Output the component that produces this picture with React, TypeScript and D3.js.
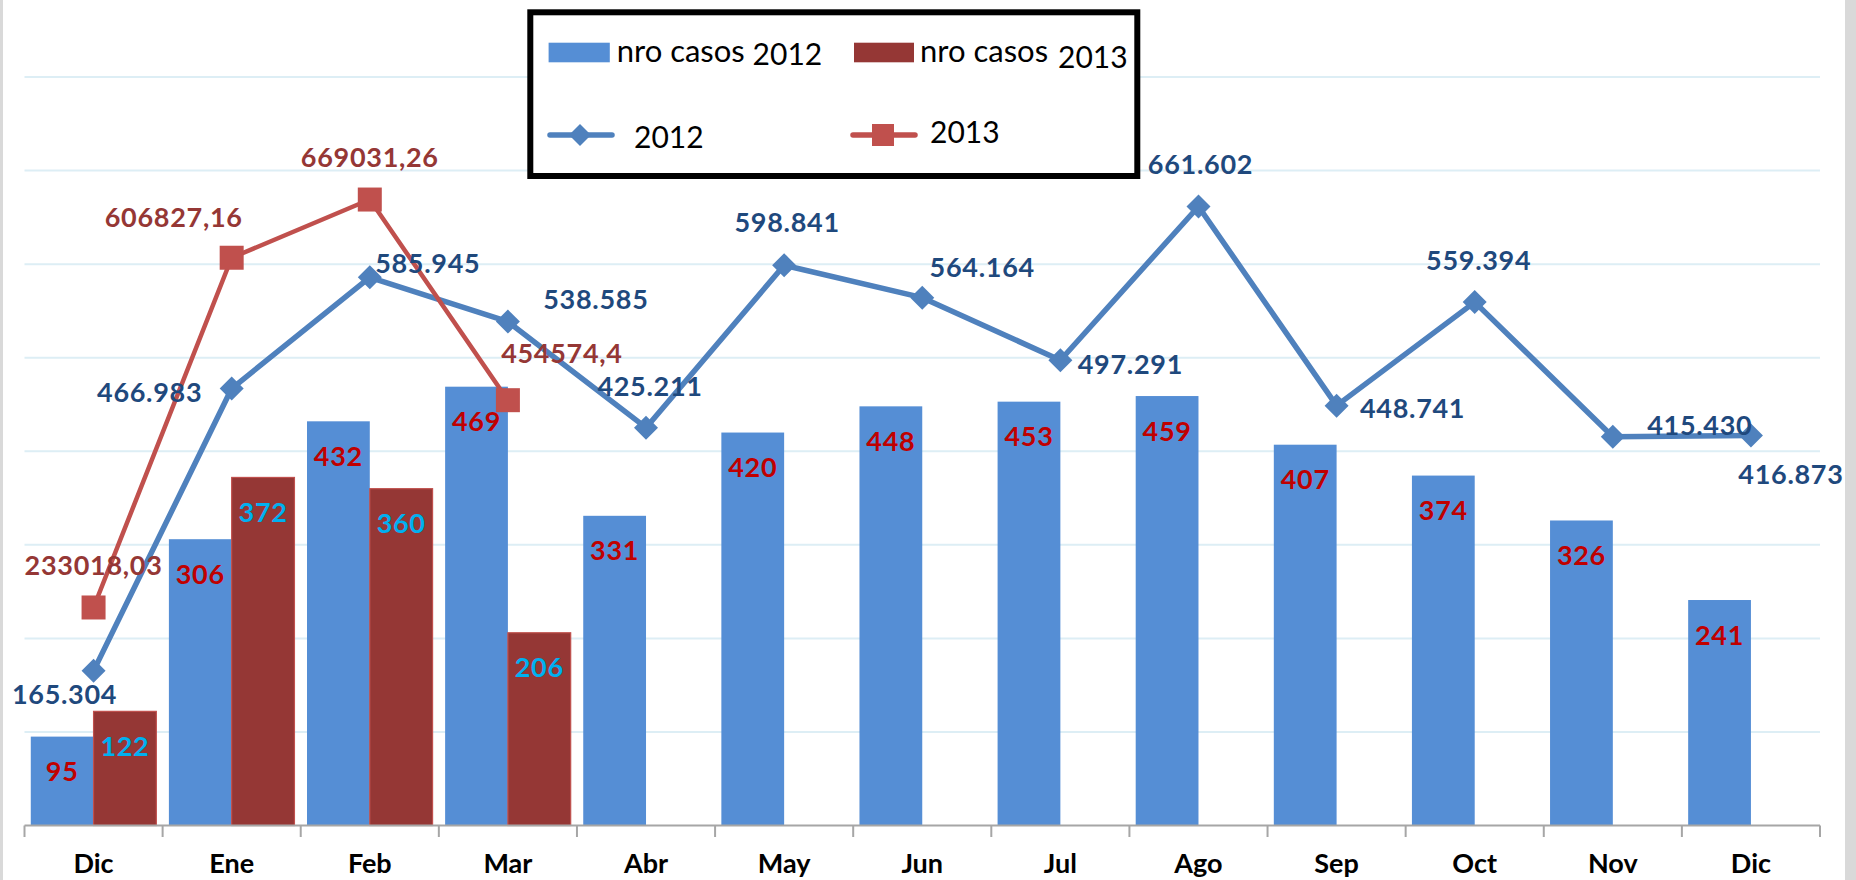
import React from "react";
import * as d3 from "d3";

const months = ["Dic", "Ene", "Feb", "Mar", "Abr", "May", "Jun", "Jul", "Ago", "Sep", "Oct", "Nov", "Dic"];
const casos2012 = [95, 306, 432, 469, 331, 420, 448, 453, 459, 407, 374, 326, 241];
const casos2013 = [122, 372, 360, 206];
const monto2012 = [165304, 466983, 585945, 538585, 425211, 598841, 564164, 497291, 661602, 448741, 559394, 415430, 416873];
const monto2013 = [233018.03, 606827.16, 669031.26, 454574.4];
const barTicks = [0, 100, 200, 300, 400, 500, 600, 700, 800];

// label placement offsets (dx, dy from point to label centre)
const off2012: [number, number][] = [
  [-29, 24], [-82, 4], [58, -14], [88, -22], [4, -41], [3, -43], [60, -30],
  [70, 4], [2, -42], [76, 3], [4, -42], [87, -11], [40, 39],
];
const off2013: [number, number][] = [[0, -42], [-58, -40], [0, -42], [54, -47]];

const W = 1856;
const H = 880;
const FONT = "Lato, 'Open Sans', sans-serif";

const BLUE_BAR = "#558ed5";
const RED_BAR = "#953735";
const BLUE_LINE = "#4f81bd";
const RED_LINE = "#c0504d";

const fmt2012 = (v: number) => d3.format(",")(v).replace(/,/g, ".");
const fmt2013 = (v: number) => String(v).replace(".", ",");

export default function App() {
  const x = d3.scaleBand<number>().domain(d3.range(months.length)).range([24.5, 1820]).paddingInner(0).paddingOuter(0);
  const y = d3.scaleLinear().domain([0, 800]).range([825.5, 77]);
  const yL = d3.scaleLinear().domain([0, 800000]).range([825.5, 77]);
  const bw = x.bandwidth();
  const barW = bw / 2.2;
  const cx = (i: number) => (x(i) as number) + bw / 2;

  const line = d3.line<number>().x((_, i) => cx(i)).y((d) => yL(d));

  const diamond = (px: number, py: number, r: number) =>
    `M${px},${py - r}L${px + r},${py}L${px},${py + r}L${px - r},${py}Z`;

  const lblStyle = { fontFamily: FONT, fontWeight: 700, fontSize: 27, letterSpacing: 0.7 } as const;

  return (
    <div style={{ position: "absolute", left: 0, top: 0, width: W, height: H, overflow: "hidden" }}>
      <svg width={W} height={H} style={{ display: "block", background: "#fff" }}>
        <rect x={0} y={0} width={W} height={H} fill="#fff" />
        <rect x={0} y={0} width={3} height={H} fill="#d9d9d9" />
        <rect x={1845} y={0} width={11} height={H} fill="#d9d9d9" />

        {/* gridlines */}
        {barTicks.slice(1).map((t) => (
          <line key={t} x1={24.5} x2={1820} y1={y(t)} y2={y(t)} stroke="#ddeef5" strokeWidth={2} />
        ))}

        {/* bars 2012 */}
        {casos2012.map((v, i) => (
          <rect key={"b12" + i} x={(x(i) as number) + 0.1 * barW} y={y(v)} width={barW} height={y(0) - y(v)} fill={BLUE_BAR} />
        ))}
        {/* bars 2013 */}
        {casos2013.map((v, i) => (
          <rect key={"b13" + i} x={(x(i) as number) + 1.1 * barW} y={y(v)} width={barW} height={y(0) - y(v)} fill={RED_BAR} stroke="#c0504d" strokeWidth={1.2} />
        ))}

        {/* axis */}
        <line x1={24.5} x2={1820} y1={825.5} y2={825.5} stroke="#a6a6a6" strokeWidth={2} />
        {d3.range(months.length + 1).map((i) => {
          const tx = i < months.length ? (x(i) as number) : 1820;
          return <line key={"t" + i} x1={tx} x2={tx} y1={825.5} y2={837} stroke="#a6a6a6" strokeWidth={2} />;
        })}
        {months.map((m, i) => (
          <text key={"m" + i} x={cx(i)} y={873} textAnchor="middle" fontFamily={FONT} fontWeight={700} fontSize={27} fill="#000">
            {m}
          </text>
        ))}

        {/* lines */}
        <path d={line(monto2012) || ""} fill="none" stroke={BLUE_LINE} strokeWidth={5.5} strokeLinejoin="round" />
        <path d={line(monto2013) || ""} fill="none" stroke={RED_LINE} strokeWidth={4.5} strokeLinejoin="round" />
        {monto2012.map((v, i) => (
          <path key={"d" + i} d={diamond(cx(i), yL(v), 12)} fill={BLUE_LINE} />
        ))}
        {monto2013.map((v, i) => (
          <rect key={"s" + i} x={cx(i) - 12} y={yL(v) - 12} width={24} height={24} fill={RED_LINE} />
        ))}

        {/* bar labels */}
        {casos2012.map((v, i) => (
          <text key={"l12" + i} x={cx(i) - bw / 2 + 0.6 * barW} y={y(v) + 44.5} textAnchor="middle" fill="#c00000" {...lblStyle}>
            {v}
          </text>
        ))}
        {casos2013.map((v, i) => (
          <text key={"l13" + i} x={cx(i) - bw / 2 + 1.6 * barW} y={y(v) + 44.5} textAnchor="middle" fill="#00b0f0" {...lblStyle}>
            {v}
          </text>
        ))}

        {/* line labels */}
        {monto2012.map((v, i) => (
          <text key={"ll12" + i} x={cx(i) + off2012[i][0]} y={yL(v) + off2012[i][1] + 9.5} textAnchor="middle" fill="#1f497d" {...lblStyle}>
            {fmt2012(v)}
          </text>
        ))}
        {monto2013.map((v, i) => (
          <text key={"ll13" + i} x={cx(i) + off2013[i][0]} y={yL(v) + off2013[i][1] + 9.5} textAnchor="middle" fill="#953735" {...lblStyle}>
            {fmt2013(v)}
          </text>
        ))}

        {/* legend */}
        <rect x={530.3} y={12.3} width={607} height={163.7} fill="#fff" stroke="#000" strokeWidth={6} />
        <rect x={548.6} y={42.7} width={61.2} height={19.6} fill={BLUE_BAR} />
        <text x={616.7} y={61.7} fontFamily={FONT} fontSize={31} fill="#000">nro casos</text>
        <text x={752.6} y={65} fontFamily={FONT} fontSize={30} fill="#000">2012</text>
        <rect x={854} y={42.7} width={60} height={19.6} fill={RED_BAR} />
        <text x={920} y={61.7} fontFamily={FONT} fontSize={31} fill="#000">nro casos</text>
        <text x={1058} y={68} fontFamily={FONT} fontSize={30} fill="#000">2013</text>

        <line x1={550} x2={612} y1={135} y2={135} stroke={BLUE_LINE} strokeWidth={5.5} strokeLinecap="round" />
        <path d={diamond(580, 135, 11)} fill={BLUE_LINE} />
        <text x={634} y={148} fontFamily={FONT} fontSize={30} fill="#000">2012</text>
        <line x1={853} x2={915} y1={135} y2={135} stroke={RED_LINE} strokeWidth={5.5} strokeLinecap="round" />
        <rect x={872} y={124} width={22} height={22} fill={RED_LINE} />
        <text x={930} y={143} fontFamily={FONT} fontSize={30} fill="#000">2013</text>
      </svg>
    </div>
  );
}
